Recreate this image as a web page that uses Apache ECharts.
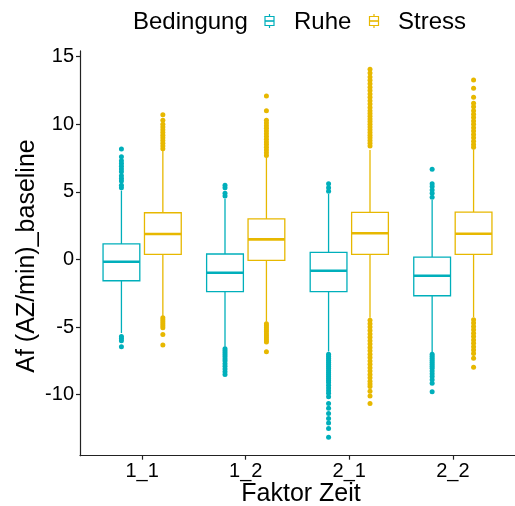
<!DOCTYPE html>
<html>
<head>
<meta charset="utf-8">
<script src="https://cdn.jsdelivr.net/npm/echarts@6/dist/echarts.min.js"></script>
<style>
  html, body { margin: 0; padding: 0; background: #fff; }
  #chart { width: 515px; height: 506px; }
</style>
</head>
<body>
<div id="chart"></div>
<script>
// Time factor levels on the x axis
const categories = ['1_1', '1_2', '2_1', '2_2'];
const groups = ['Ruhe', 'Stress'];

// Box statistics per level: [lower whisker, Q1, median, Q3, upper whisker]
const ruheBox = [
  [-5.44, -1.57, -0.16, 1.15, 5.1],
  [-6.45, -2.38, -0.98, 0.41, 4.5],
  [-6.8, -2.38, -0.83, 0.53, 4.85],
  [-6.85, -2.68, -1.2, 0.18, 4.4]
];
const stressBox = [
  [-4.2, 0.38, 1.89, 3.46, 8.05],
  [-4.6, -0.06, 1.49, 3.0, 7.55],
  [-4.3, 0.38, 1.94, 3.49, 8.1],
  [-4.25, 0.38, 1.91, 3.51, 8.15]
];

// Outlying observations per level
const ruheOutliers = [
  [8.17, 7.6, 7.3, 7.1, 6.9, 6.7, 6.5, 6.2, 6.0, 5.8, 5.5, 5.3, -5.7, -5.85, -6.0, -6.45],
  [5.5, 5.3, 4.9, 4.7, -6.6, -6.75, -6.9, -7.05, -7.2, -7.35, -7.5, -7.7, -7.9, -8.1, -8.3, -8.5],
  [5.6, 5.3, 5.05, -7.0, -7.15, -7.3, -7.45, -7.6, -7.75, -7.9, -8.05, -8.2, -8.35, -8.5, -8.65,
   -8.8, -8.95, -9.1, -9.3, -9.5, -9.7, -9.9, -10.15, -10.64, -11.0, -11.38, -11.75, -12.1, -12.5, -13.15],
  [6.67, 5.6, 5.4, 5.15, 4.9, 4.6, -7.0, -7.15, -7.3, -7.45, -7.6, -7.75, -7.9, -8.05, -8.25,
   -8.45, -8.65, -8.9, -9.16, -9.78]
];
const stressOutliers = [
  [10.71, 10.3, 10.0, 9.8, 9.6, 9.4, 9.2, 9.0, 8.8, 8.6, 8.4, 8.2,
   -4.3, -4.45, -4.6, -4.75, -4.9, -5.05, -5.55, -6.32],
  [12.09, 11.0, 10.3, 10.1, 9.9, 9.7, 9.5, 9.3, 9.1, 8.9, 8.7, 8.5, 8.3, 8.1, 7.9, 7.7,
   -4.75, -4.9, -5.05, -5.2, -5.35, -5.5, -5.65, -5.8, -5.95, -6.1, -6.82],
  [14.07, 13.8, 13.5, 13.25, 13.0, 12.75, 12.5, 12.25, 12.0, 11.75, 11.5, 11.25, 11.0, 10.8,
   10.6, 10.4, 10.2, 10.0, 9.8, 9.6, 9.4, 9.2, 9.0, 8.8, 8.6, 8.4,
   -4.5, -4.75, -5.0, -5.25, -5.5, -5.75, -6.0, -6.25, -6.5, -6.75, -7.0, -7.25, -7.5, -7.75,
   -8.0, -8.25, -8.5, -8.75, -9.0, -9.2, -9.4, -9.75, -10.1, -10.64],
  [13.28, 12.66, 12.0, 11.55, 11.3, 11.0, 10.75, 10.5, 10.25, 10.0, 9.75, 9.5, 9.25, 9.0,
   8.75, 8.5, 8.3,
   -4.45, -4.7, -4.95, -5.2, -5.45, -5.7, -5.95, -6.2, -6.45, -6.7, -6.95, -7.3, -7.97]
];

// Y tick labels
const yTicks = [-10, -5, 0, 5, 10, 15];

const COLORS = { Ruhe: '#00AFBB', Stress: '#E7B800' };
const DODGE = 0.2;       // half the distance between paired boxes (x units)
const BOX_WIDTH = 0.355; // box width (x units)

function boxData(stats, offset) {
  return stats.map((s, i) => [i + 1 + offset].concat(s));
}
function outlierData(lists, offset) {
  const out = [];
  lists.forEach((vals, i) => vals.forEach(v => out.push([i + 1 + offset, v])));
  return out;
}

function makeRenderer(color) {
  return function (params, api) {
    const x = api.value(0);
    const lo = api.coord([x, api.value(1)]);
    const q1 = api.coord([x, api.value(2)]);
    const md = api.coord([x, api.value(3)]);
    const q3 = api.coord([x, api.value(4)]);
    const hi = api.coord([x, api.value(5)]);
    const w = api.size([BOX_WIDTH, 0])[0];
    const line = { stroke: color, lineWidth: 1.3, fill: null };
    return {
      type: 'group',
      children: [
        { type: 'line', shape: { x1: q3[0], y1: q3[1], x2: hi[0], y2: hi[1] }, style: line },
        { type: 'line', shape: { x1: q1[0], y1: q1[1], x2: lo[0], y2: lo[1] }, style: line },
        { type: 'rect', shape: { x: q3[0] - w / 2, y: q3[1], width: w, height: q1[1] - q3[1] },
          style: { stroke: color, lineWidth: 1.3, fill: '#fff' } },
        { type: 'line', shape: { x1: md[0] - w / 2, y1: md[1], x2: md[0] + w / 2, y2: md[1] },
          style: { stroke: color, lineWidth: 2.6 } }
      ]
    };
  };
}

// Small boxplot glyph for the legend
function legendGlyph(cx, cy, color) {
  return {
    type: 'group',
    children: [
      { type: 'line', shape: { x1: cx, y1: cy - 7, x2: cx, y2: cy + 7 }, style: { stroke: color, lineWidth: 1.2 } },
      { type: 'rect', shape: { x: cx - 4.5, y: cy - 4.5, width: 9, height: 9 },
        style: { stroke: color, lineWidth: 1.2, fill: '#fff' } },
      { type: 'line', shape: { x1: cx - 4.5, y1: cy, x2: cx + 4.5, y2: cy }, style: { stroke: color, lineWidth: 1.6 } }
    ]
  };
}

const FONT = 'Liberation Sans, Arial, sans-serif';
const chart = echarts.init(document.getElementById('chart'), null, { renderer: 'canvas' });

chart.setOption({
  animation: false,
  backgroundColor: '#fff',
  grid: { left: 80, top: 50.9, width: 441, height: 404.8 },
  xAxis: {
    type: 'value',
    min: 0.4,
    max: 4.6,
    splitLine: { show: false },
    axisLine: { show: true, onZero: false, lineStyle: { color: '#222', width: 1.2 } },
    axisTick: { show: true, length: 4, customValues: [1, 2, 3, 4], lineStyle: { color: '#222', width: 1.2 } },
    axisLabel: {
      customValues: [1, 2, 3, 4],
      formatter: v => categories[Math.round(v) - 1],
      color: '#000', fontSize: 20, fontFamily: FONT, margin: 6
    }
  },
  yAxis: {
    type: 'value',
    min: -14.51,
    max: 15.43,
    splitLine: { show: false },
    axisLine: { show: true, onZero: false, lineStyle: { color: '#222', width: 1.2 } },
    axisTick: { show: true, length: 4, customValues: yTicks, lineStyle: { color: '#222', width: 1.2 } },
    axisLabel: { customValues: yTicks, color: '#000', fontSize: 20, fontFamily: FONT, margin: 6 }
  },
  series: [
    { type: 'custom', name: 'Ruhe', renderItem: makeRenderer(COLORS.Ruhe),
      data: boxData(ruheBox, -DODGE), encode: { x: 0, y: [1, 2, 3, 4, 5] }, z: 2 },
    { type: 'custom', name: 'Stress', renderItem: makeRenderer(COLORS.Stress),
      data: boxData(stressBox, DODGE), encode: { x: 0, y: [1, 2, 3, 4, 5] }, z: 2 },
    { type: 'scatter', name: 'Ruhe', data: outlierData(ruheOutliers, -DODGE),
      symbolSize: 5, itemStyle: { color: COLORS.Ruhe, opacity: 1 }, z: 3 },
    { type: 'scatter', name: 'Stress', data: outlierData(stressOutliers, DODGE),
      symbolSize: 5, itemStyle: { color: COLORS.Stress, opacity: 1 }, z: 3 }
  ],
  graphic: [
    { type: 'text', left: 133, top: 10,
      style: { text: 'Bedingung', fontSize: 24, fontFamily: FONT, fill: '#000' } },
    legendGlyph(269.5, 21, COLORS.Ruhe),
    { type: 'text', left: 294, top: 10,
      style: { text: groups[0], fontSize: 24, fontFamily: FONT, fill: '#000' } },
    legendGlyph(374, 21, COLORS.Stress),
    { type: 'text', left: 398, top: 10,
      style: { text: groups[1], fontSize: 24, fontFamily: FONT, fill: '#000' } },
    { type: 'text', x: 301, y: 494,
      style: { text: 'Faktor Zeit', fontSize: 25, fontFamily: FONT, fill: '#000',
               align: 'center', verticalAlign: 'middle' } },
    { type: 'text', x: 27, y: 256, rotation: Math.PI / 2,
      style: { text: 'Af (AZ/min)_baseline', fontSize: 25, fontFamily: FONT, fill: '#000',
               align: 'center', verticalAlign: 'middle' } }
  ]
});
</script>
</body>
</html>
